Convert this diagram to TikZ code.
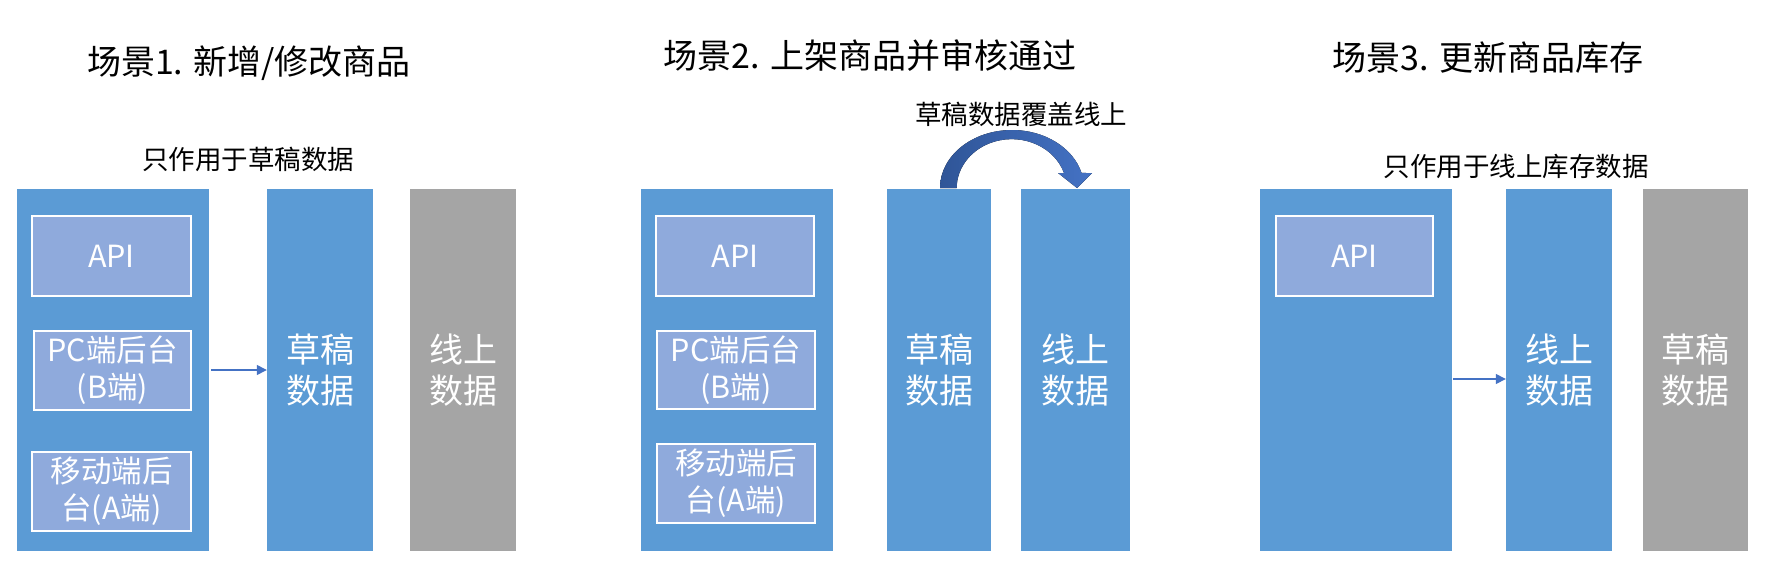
\documentclass[tikz,border=0pt]{standalone}
\usepackage{fontspec}
\setmainfont{Noto Sans CJK SC}
\usepackage{tikz}
\usetikzlibrary{arrows.meta}
\definecolor{boxblue}{HTML}{5B9BD5}
\definecolor{innerblue}{HTML}{8FAADC}
\definecolor{boxgray}{HTML}{A5A5A5}
\definecolor{arrowblue}{HTML}{4472C4}
\definecolor{arrowdark}{HTML}{2F5597}

\begin{document}
\begin{tikzpicture}[x=1pt, y=-1pt,
    title/.style={font=\fontsize{34}{40}\selectfont},
    note/.style={font=\fontsize{26.5}{30}\selectfont},
    column/.style={fill=boxblue, inner sep=0pt, minimum height=362pt, text=white,
      align=center, font=\fontsize{34}{41}\selectfont},
    source/.style={column, minimum width=192pt},
    client/.style={fill=innerblue, draw=white, line width=2pt, inner sep=0pt, text=white,
      align=center, font=\fontsize{30.5}{37}\selectfont},
    flow/.style={draw=arrowblue, line width=1.4pt, -{Triangle[length=10pt, width=10pt]}}]
  \useasboundingbox (0,0) rectangle (1774,582);

  % scene 1
  \node[title] (title1) at (249,63) {场景1. 新增/修改商品};
  \node[note] (note1) at (248,159) {只作用于草稿数据};
  \node[source] (src1) at (113,370) {};
  \node[client, minimum width=159pt, minimum height=80pt] (api1) at (111.5,256) {API};
  \node[client, minimum width=157pt, minimum height=79pt] (pc1) at (112.5,370.5) {PC端后台\\(B端)};
  \node[client, minimum width=159pt, minimum height=79pt] (mob1) at (111.5,491.5) {移动端后\\台(A端)};
  \node[column, minimum width=106pt] (draft1) at (320,370) {草稿\\数据};
  \node[column, fill=boxgray, minimum width=106pt] (online1) at (463,370) {线上\\数据};
  \draw[flow, shorten <=2pt] (src1.east) -- (draft1.west);

  % scene 2
  \node[title] (title2) at (870,56) {场景2. 上架商品并审核通过};
  \node[note] (note2) at (1021,114) {草稿数据覆盖线上};
  \node[source] (src2) at (737,370) {};
  \node[client, minimum width=158pt, minimum height=80pt] (api2) at (735,256) {API};
  \node[client, minimum width=158pt, minimum height=78pt] (pc2) at (736,370) {PC端后台\\(B端)};
  \node[client, minimum width=158pt, minimum height=79pt] (mob2) at (736,483.5) {移动端后\\台(A端)};
  \node[column, minimum width=104pt] (draft2) at (939,370) {草稿\\数据};
  \node[column, minimum width=109pt] (online2) at (1075.5,370) {线上\\数据};
  % curved arrow: draft -> online
  \fill[left color=arrowdark, right color=arrowblue]
    (940,188) arc[start angle=180, end angle=345, x radius=72, y radius=58]
    -- (1092,173) -- (1077,188) -- (1058,173) -- (1064,173)
    arc[start angle=342, end angle=180, x radius=55, y radius=49] -- cycle;

  % scene 3
  \node[title] (title3) at (1488,58) {场景3. 更新商品库存};
  \node[note] (note3) at (1516,166) {只作用于线上库存数据};
  \node[source] (src3) at (1356,370) {};
  \node[client, minimum width=157pt, minimum height=80pt] (api3) at (1354.5,256) {API};
  \node[column, minimum width=106pt] (online3) at (1559,370) {线上\\数据};
  \node[column, fill=boxgray, minimum width=105pt] (draft3) at (1695.5,370) {草稿\\数据};
  \draw[flow, shorten <=1pt] ([yshift=-9pt]src3.east) -- ([yshift=-9pt]online3.west);
\end{tikzpicture}
\end{document}
